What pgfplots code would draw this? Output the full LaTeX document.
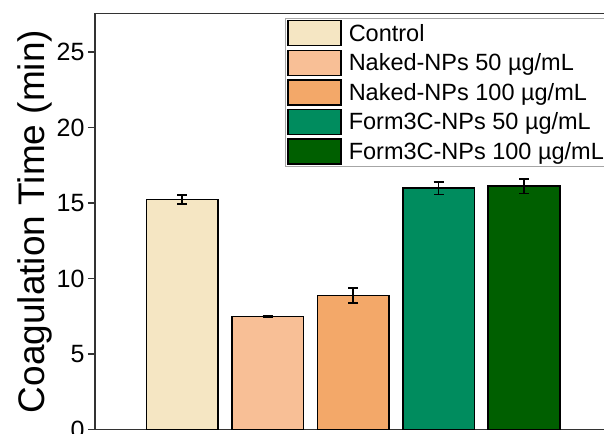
\documentclass[border=0pt]{standalone}
\usepackage{pgfplots}
\pgfplotsset{compat=1.18}
\usepackage{fontspec}
\setmainfont{Liberation Sans}

\definecolor{cctrl}{HTML}{F5E6C3}
\definecolor{cnak50}{HTML}{F8BF96}
\definecolor{cnak100}{HTML}{F3A869}
\definecolor{cf50}{HTML}{008C5E}
\definecolor{cf100}{HTML}{005F00}
\definecolor{axgray}{HTML}{333333}

\begin{document}
\begin{tikzpicture}
\begin{axis}[
  scale only axis,
  width=514.5pt, height=416pt,
  xmin=-0.02, xmax=6,
  ymin=0, ymax=27.55,
  ytick={0,5,10,15,20,25},
  xtick=\empty,
  ytick pos=left,
  tick align=outside,
  major tick length=7pt,
  every tick/.style={axgray, line width=1.3pt},
  axis line style={axgray, line width=1.3pt},
  tick label style={font=\fontsize{25}{29}\selectfont},
  /pgf/number format/assume math mode=true,
  ylabel={Coagulation Time (min)},
  ylabel style={font=\fontsize{37}{40}\selectfont, yshift=-2pt},
  ybar, bar width=71.5pt, bar shift=0pt,
  error bars/error mark options={rotate=90, mark size=5pt, line width=1.5pt, black},
  error bars/error bar style={line width=1.5pt, black},
  legend style={
    at={(0.369,0.99)}, anchor=north west,
    draw=gray!70, line width=0.8pt,
    font=\fontsize{23.5}{27}\selectfont,
    cells={anchor=west},
    row sep=3.2pt,
    inner xsep=2pt, inner ysep=2pt,
  },
  legend image code/.code={
    \draw[#1, line width=1.4pt] (0pt,-12.5pt) rectangle (53pt,12.5pt);
    \path (58pt,0pt);
  },
]
\addplot[draw=black, line width=1.6pt, fill=cctrl, error bars/.cd, y dir=both, y explicit]
  coordinates {(1,15.22) +- (0,0.3)};
\addplot[draw=black, line width=1.6pt, fill=cnak50, error bars/.cd, y dir=both, y explicit]
  coordinates {(2,7.48) +- (0,0.04)};
\addplot[draw=black, line width=1.6pt, fill=cnak100, error bars/.cd, y dir=both, y explicit]
  coordinates {(3,8.87) +- (0,0.5)};
\addplot[draw=black, line width=1.6pt, fill=cf50, error bars/.cd, y dir=both, y explicit]
  coordinates {(4,15.98) +- (0,0.42)};
\addplot[draw=black, line width=1.6pt, fill=cf100, error bars/.cd, y dir=both, y explicit]
  coordinates {(5,16.12) +- (0,0.48)};
\legend{Control, Naked-NPs 50 µg/mL, Naked-NPs 100 µg/mL, Form3C-NPs 50 µg/mL, Form3C-NPs 100 µg/mL}
\end{axis}
\pgfresetboundingbox
\path (current axis.south west) ++(-95pt,-3.5pt) rectangle ++(604pt,433pt);
\end{tikzpicture}
\end{document}
